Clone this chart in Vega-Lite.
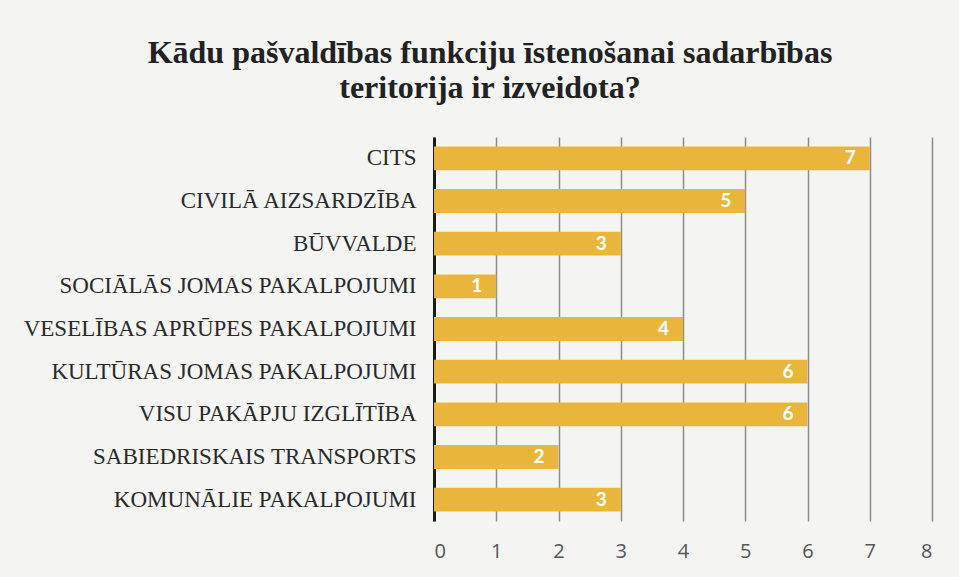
{
  "$schema": "https://vega.github.io/schema/vega-lite/v6.json",
  "width": 498,
  "height": 384,
  "autosize": "none",
  "padding": {"left": 434, "top": 137, "right": 27, "bottom": 56},
  "background": "#f4f4f3",
  "title": {
    "text": ["Kādu pašvaldības funkciju īstenošanai sadarbības", "teritorija ir izveidota?"],
    "font": "Liberation Serif",
    "fontSize": 32,
    "fontWeight": "bold",
    "color": "#222222",
    "anchor": "middle",
    "dx": -193,
    "offset": 32,
    "lineHeight": 35
  },
  "config": {"view": {"stroke": null}},
  "data": {
    "values": [
      {"kat": "CITS", "v": 7},
      {"kat": "CIVILĀ AIZSARDZĪBA ", "v": 5},
      {"kat": "BŪVVALDE", "v": 3},
      {"kat": "SOCIĀLĀS JOMAS PAKALPOJUMI", "v": 1},
      {"kat": "VESELĪBAS APRŪPES PAKALPOJUMI", "v": 4},
      {"kat": "KULTŪRAS JOMAS PAKALPOJUMI", "v": 6},
      {"kat": "VISU PAKĀPJU IZGLĪTĪBA", "v": 6},
      {"kat": "SABIEDRISKAIS TRANSPORTS", "v": 2},
      {"kat": "KOMUNĀLIE PAKALPOJUMI", "v": 3}
    ]
  },
  "encoding": {
    "y": {
      "field": "kat",
      "type": "nominal",
      "sort": null,
      "title": null,
      "scale": {"paddingInner": 0.44, "paddingOuter": 0.22},
      "axis": {
        "labelFont": "Liberation Serif",
        "labelFontSize": 23,
        "labelColor": "#2a2a2a",
        "labelPadding": 18,
        "labelLimit": 430,
        "ticks": false,
        "domainColor": "#1a1a1a",
        "domainWidth": 3,
        "grid": false
      }
    },
    "x": {
      "field": "v",
      "type": "quantitative",
      "title": null,
      "scale": {"domain": [0, 8], "nice": false},
      "axis": {
        "values": [0, 1, 2, 3, 4, 5, 6, 7, 8],
        "labelFont": "Open Sans",
        "labelFontSize": 20,
        "labelColor": "#555555",
        "labelPadding": 20,
        "ticks": false,
        "domain": false,
        "grid": true,
        "gridColor": "#8c8c8c",
        "gridWidth": 1.5
      }
    }
  },
  "layer": [
    {"mark": {"type": "bar", "color": "#eab53b"}},
    {
      "mark": {"type": "text", "align": "right", "dx": -14, "color": "#ffffff", "font": "Lato", "fontWeight": "bold", "fontSize": 19},
      "encoding": {"text": {"field": "v", "type": "quantitative"}}
    }
  ]
}
